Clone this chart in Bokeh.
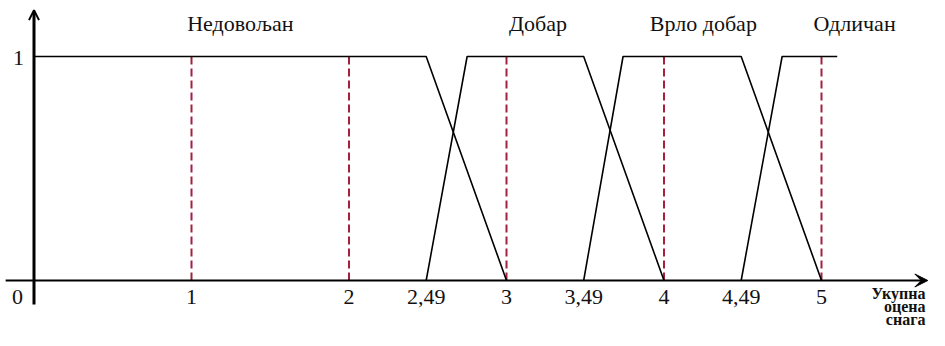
from bokeh.plotting import figure
from bokeh.models import Range1d, Arrow, OpenHead, VeeHead, ColumnDataSource
from bokeh.core.properties import value
from bokeh.embed import file_html
from bokeh.resources import INLINE

# ---- data ----
categories = ["Недовољан", "Добар", "Врло добар", "Одличан"]
nedovoljan_x = [0, 2.49, 3]
nedovoljan_y = [1, 1, 0]
dobar_x = [2.49, 2.75, 3.49, 4]
dobar_y = [0, 1, 1, 0]
vrlo_dobar_x = [3.49, 3.74, 4.49, 5]
vrlo_dobar_y = [0, 1, 1, 0]
odlican_x = [4.49, 4.75, 5.1]
odlican_y = [0, 1, 1]
grade_marks = [1, 2, 3, 4, 5]
x_ticks = [1, 2, 2.49, 3, 3.49, 4, 4.49, 5]
x_tick_labels = ["1", "2", "2,49", "3", "3,49", "4", "4,49", "5"]
origin_label = "0"
y_ticks = [1]
y_tick_labels = ["1"]
axis_title_lines = ["Укупна", "оцена", "снага"]

SERIF = value("Liberation Serif")

p = figure(width=929, height=330, output_backend="svg", toolbar_location=None,
           x_range=Range1d(-0.2127, 5.6857), y_range=Range1d(-0.2232, 1.25),
           x_axis_type=None, y_axis_type=None, min_border=0,
           outline_line_color=None, background_fill_color="white")
p.grid.visible = False

# axes with arrows
p.add_layout(Arrow(x_start=-0.18, y_start=0, x_end=5.675, y_end=0,
                   line_color="black", line_width=2,
                   end=VeeHead(size=13, fill_color="black", line_color="black", line_width=1)))
p.add_layout(Arrow(x_start=0, y_start=-0.107, x_end=0, y_end=1.207,
                   line_color="black", line_width=3,
                   end=OpenHead(size=10, line_color="black", line_width=2)))

# red dashed grade marks
p.segment(x0=grade_marks, y0=[0] * len(grade_marks), x1=grade_marks, y1=[1] * len(grade_marks),
          line_color="#a3203f", line_width=2, line_dash="8 4")

# membership functions
for xs, ys in [(nedovoljan_x, nedovoljan_y), (dobar_x, dobar_y),
               (vrlo_dobar_x, vrlo_dobar_y), (odlican_x, odlican_y)]:
    p.line(xs, ys, line_color="black", line_width=1.6)

# category labels
category_label_x = [1.31, 3.2, 4.25, 5.21]
p.text(x=category_label_x, y=[1.147] * 4, text=categories, text_font=SERIF,
       text_font_size="22px", text_align="center", text_baseline="middle", text_color="#111111")

# x tick labels
p.text(x=x_ticks, y=[0] * len(x_ticks), text=x_tick_labels, y_offset=16, text_font=SERIF,
       text_font_size="22px", text_align="center", text_baseline="middle", text_color="#111111")
p.text(x=[0], y=[0], text=[origin_label], x_offset=-11, y_offset=16, text_font=SERIF,
       text_font_size="22px", text_align="right", text_baseline="middle", text_color="#111111")

# y tick labels
p.text(x=[0] * len(y_ticks), y=y_ticks, text=y_tick_labels, x_offset=-10, y_offset=1,
       text_font=SERIF, text_font_size="22px", text_align="right", text_baseline="middle",
       text_color="#111111")

# axis title (three lines, bold), squeezed to fit the figure
title_src = ColumnDataSource(dict(x=[5.66] * 3, y=[0] * 3, text=axis_title_lines, dy=[13, 26, 39]))
p.text(x="x", y="y", text="text", y_offset="dy", source=title_src, text_font=SERIF,
       text_font_size="16px", text_font_style="bold", text_align="right",
       text_baseline="alphabetic", text_color="#111111")

open("out.html", "w").write(file_html(p, INLINE))
